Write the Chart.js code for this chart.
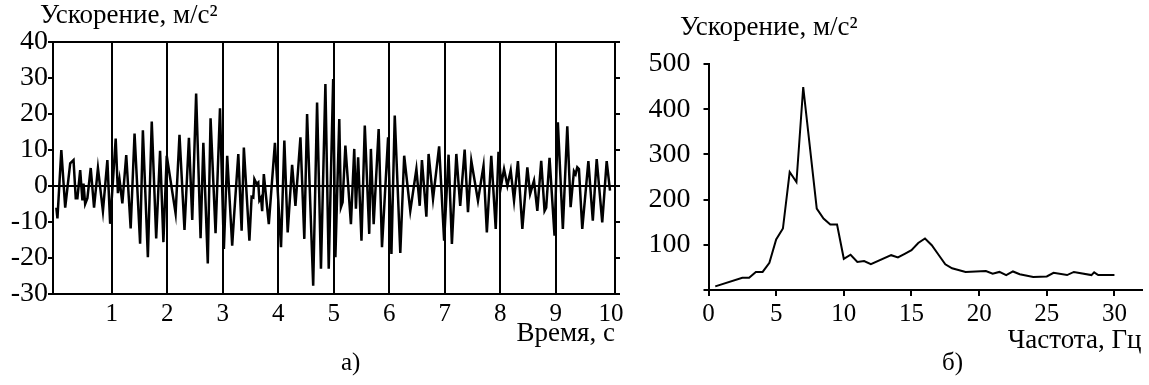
<!DOCTYPE html>
<html lang="ru">
<head>
<meta charset="UTF-8">
<title>Ускорение</title>
<script src="https://cdn.jsdelivr.net/npm/chart.js"></script>
<style>
    body { margin: 0; background: #fff; }
    .wrap { position: relative; width: 1149px; height: 385px; }
    #leftChart { position: absolute; left: 0; top: 0; }
    #rightChart { position: absolute; left: 640px; top: 0; }
    .caption { position: absolute; font-family: 'Liberation Serif', serif; font-size: 25px; line-height: 25px; color: #000; }
</style>
</head>
<body>
<div class="wrap">
    <canvas id="leftChart" width="640" height="385"></canvas>
    <canvas id="rightChart" width="509" height="385"></canvas>
    <div class="caption" style="left:341px; top:349px;">а)</div>
    <div class="caption" style="left:942px; top:349px;">б)</div>
</div>

<script>
// а) ускорение во времени
const timeS = [
    0.00, 0.02, 0.09, 0.16, 0.25, 0.31, 0.35, 0.38, 0.43, 0.47, 0.49, 0.52, 0.56, 0.62, 0.68, 0.75, 0.84, 0.92, 0.97,
    1.07, 1.11, 1.14, 1.19, 1.26, 1.34, 1.41, 1.51, 1.56, 1.65, 1.72, 1.80, 1.87, 1.93, 1.99,
    2.15, 2.22, 2.31, 2.39, 2.45, 2.52, 2.60, 2.65, 2.73, 2.78, 2.87, 2.95,
    3.02, 3.08, 3.17, 3.20, 3.28, 3.34, 3.38, 3.48, 3.52, 3.55, 3.57, 3.61, 3.64, 3.66, 3.69, 3.71, 3.74, 3.83, 3.94,
    4.05, 4.11, 4.17, 4.25, 4.31, 4.40, 4.47, 4.52, 4.63, 4.70, 4.77, 4.85, 4.91, 4.99,
    5.03, 5.10, 5.13, 5.16, 5.21, 5.31, 5.37, 5.40, 5.44, 5.50, 5.56, 5.64, 5.67, 5.72, 5.81, 5.87, 5.98,
    6.04, 6.10, 6.20, 6.27, 6.38, 6.49, 6.55, 6.59, 6.67, 6.71, 6.79, 6.90, 6.99,
    7.07, 7.13, 7.21, 7.28, 7.36, 7.42, 7.48, 7.60, 7.70, 7.76, 7.84, 7.92, 7.97,
    8.02, 8.07, 8.13, 8.19, 8.25, 8.32, 8.40, 8.49, 8.54, 8.61, 8.67, 8.74, 8.80, 8.83, 8.89, 8.98,
    9.04, 9.13, 9.21, 9.27, 9.33, 9.36, 9.39, 9.42, 9.48, 9.59, 9.67, 9.74, 9.84, 9.92, 9.98
];
const accelTime = [
    -6, -9, 10, -6, 6.3, 7.2, -3.4, -3.4, 4.4, -4, 0.7, -5, -3.4, 5, -6, 5, -7, 7.2, -10.5,
    13.2, -2, 1.7, -4.8, 8.6, -11.8, 14.6, -16, 15.5, -19.8, 17.9, -14.6, 9.8, -15.6, 8.4,
    -7.6, 14.2, -12.2, 13.4, -9.4, 25.7, -14.5, 12, -21.5, 18.8, -13.1, 21.6,
    -17.5, 8.4, -16.6, -9.2, 8.9, -12.4, 10.7, -15.2, -3, -3.2, 1.9, 0.6, 1, -4, -3.2, -7, 3.3, -10.6, 12,
    -17, 12.6, -12.9, 5.9, -5.5, 13.5, -14.7, 20, -27.7, 23.2, -23, 28.3, -23, 29.7,
    -19.8, 18.6, -5.9, -4.5, 11.2, -10.6, 10.3, -6.3, 8, -15.2, 16.8, -13.3, 10.3, -10.6, 15.8, -17, 13.5,
    -18.9, 19.6, -18.6, 8.4, -6.9, 4.7, -5.5, 7.2, -8.5, 8.9, -3.6, 11, -15.2,
    8.7, -16.1, 8.9, -5.5, 10.1, -7.3, 7, -4.1, 5.6, -12.9, 8.4, -11.9, 9.5,
    0.4, 4.7, 0.1, 4.3, -4.1, 6.9, -11.9, 5.2, -2.2, 1.5, -6.9, 7, -6.9, -6, 7.8, -13.8,
    17.7, -11.9, 16.6, -5.9, 4.1, 3.3, 5.2, 4.7, -11.9, 6.9, -9.6, 7.5, -10.1, 6.9, -1.3
];
const timeTicks = [1, 2, 3, 4, 5, 6, 7, 8, 9, 10];
const accelTicks = [-30, -20, -10, 0, 10, 20, 30, 40];

// б) спектр
const freqHz = [
    0.5, 2.5, 3.0, 3.5, 4.0, 4.5, 5.0, 5.5, 6.0, 6.5, 7.0, 8.0, 8.5, 9.0, 9.5, 10.0, 10.5, 11.0, 11.5, 12.0,
    13.5, 14.0, 14.5, 15.0, 15.5, 16.0, 16.5, 17.0, 17.5, 18.0, 19.0, 20.5, 21.0, 21.5, 22.0, 22.5, 23.0,
    24.0, 25.0, 25.5, 26.5, 27.0, 28.3, 28.5, 28.8, 30.0
];
const accelSpectrum = [
    8, 27, 27, 40, 40, 60, 112, 136, 261, 239, 449, 180, 158, 145, 145, 69, 78, 62, 64, 57,
    77, 72, 80, 88, 104, 114, 99, 78, 57, 48, 40, 42, 36, 40, 33, 41, 35,
    29, 30, 38, 33, 40, 33, 39, 33, 33
];
const freqTicks = [0, 5, 10, 15, 20, 25, 30];
const spectrumTicks = [0, 100, 200, 300, 400, 500];

Chart.defaults.font.family = "'Liberation Serif', 'Times New Roman', serif";
Chart.defaults.font.size = 25;
Chart.defaults.color = '#000';

const clear = 'rgba(0,0,0,0)';

// сдвиг заголовка вправо от края холста
const titleShift = {
    id: 'titleShift',
    afterLayout(chart, args, opts) {
        if (chart.titleBlock) chart.titleBlock.left = opts.x;
    }
};

// левый график
new Chart(document.getElementById('leftChart'), {
    type: 'line',
    plugins: [titleShift],
    data: {
        datasets: [{
            data: timeS.map((t, i) => ({ x: t, y: accelTime[i] })),
            borderColor: '#000',
            borderWidth: 2.5,
            pointRadius: 0,
            tension: 0,
            fill: false
        }]
    },
    options: {
        responsive: false,
        animation: false,
        layout: { padding: { left: 0, right: 20, top: 0, bottom: 35 } },
        plugins: {
            legend: { display: false },
            tooltip: { enabled: false },
            titleShift: { x: 40 },
            title: {
                display: true,
                text: 'Ускорение, м/с²',
                align: 'start',
                color: '#000',
                font: { size: 27, weight: 'normal' },
                padding: { top: 0, bottom: 9.6 }
            }
        },
        scales: {
            x: {
                type: 'linear',
                min: -0.06,
                max: 10.07,
                afterBuildTicks: s => { s.ticks = timeTicks.map(v => ({ value: v })); },
                afterFit: s => { s.height = 56; },
                grid: {
                    color: c => (c.tick && c.tick.value < 10) ? '#000' : clear,
                    lineWidth: 2,
                    drawTicks: false
                },
                border: { color: '#000', width: 2 },
                ticks: { padding: 5, maxRotation: 0, autoSkip: false },
                title: { display: true, text: 'Время, с', align: 'end', padding: 0, font: { size: 27 } }
            },
            y: {
                position: 'left',
                min: -30,
                max: 40,
                afterBuildTicks: s => { s.ticks = accelTicks.map(v => ({ value: v })); },
                afterFit: s => { s.width = 53; },
                grid: {
                    color: c => (c.tick && (c.tick.value === 0 || c.tick.value === 40)) ? '#000' : clear,
                    tickColor: '#000',
                    lineWidth: 2,
                    tickLength: 5
                },
                border: { color: '#000', width: 2 },
                ticks: { padding: 0, autoSkip: false, font: { size: 28 } }
            },
            y2: {
                position: 'right',
                min: -30,
                max: 40,
                afterBuildTicks: s => { s.ticks = accelTicks.map(v => ({ value: v })); },
                afterFit: s => { s.width = 5; },
                grid: { drawOnChartArea: false, tickColor: '#000', lineWidth: 2, tickLength: 5 },
                border: { color: '#000', width: 2 },
                ticks: { display: false, autoSkip: false }
            }
        }
    }
});

// правый график
new Chart(document.getElementById('rightChart'), {
    type: 'line',
    plugins: [titleShift],
    data: {
        datasets: [{
            data: freqHz.map((f, i) => ({ x: f, y: accelSpectrum[i] })),
            borderColor: '#000',
            borderWidth: 2,
            pointRadius: 0,
            tension: 0,
            fill: false
        }]
    },
    options: {
        responsive: false,
        animation: false,
        layout: { padding: { left: 0, right: 7.5, top: 0, bottom: 28 } },
        plugins: {
            legend: { display: false },
            tooltip: { enabled: false },
            titleShift: { x: 40 },
            title: {
                display: true,
                text: 'Ускорение, м/с²',
                align: 'start',
                color: '#000',
                font: { size: 27, weight: 'normal' },
                padding: { top: 11.7, bottom: 19.9 }
            }
        },
        scales: {
            x: {
                type: 'linear',
                min: 0,
                max: 32,
                afterBuildTicks: s => { s.ticks = freqTicks.map(v => ({ value: v })); },
                afterFit: s => { s.height = 67; },
                grid: { drawOnChartArea: false, tickColor: '#000', lineWidth: 2, tickLength: 6 },
                border: { color: '#000', width: 2 },
                ticks: { padding: 3, maxRotation: 0, autoSkip: false },
                title: { display: true, text: 'Частота, Гц', align: 'end', padding: 0, font: { size: 27 } }
            },
            y: {
                min: 0,
                max: 500,
                afterBuildTicks: s => { s.ticks = spectrumTicks.map(v => ({ value: v })); },
                afterFit: s => { s.width = 68.5; },
                grid: { drawOnChartArea: false, tickColor: '#000', lineWidth: 2, tickLength: 5 },
                border: { color: '#000', width: 2 },
                ticks: { padding: 13, autoSkip: false, font: { size: 28 }, callback: v => v === 0 ? '' : v }
            }
        }
    }
});
</script>
</body>
</html>
